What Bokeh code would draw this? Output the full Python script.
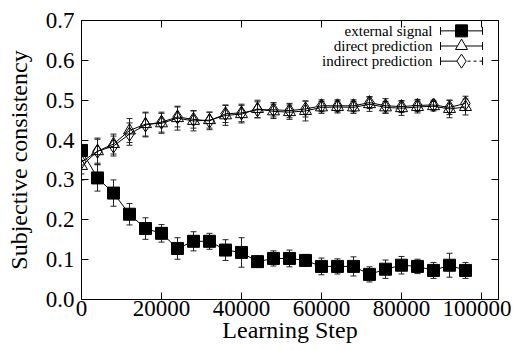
from bokeh.plotting import figure
from bokeh.models import (ColumnDataSource, Whisker, TeeHead, LinearAxis, FixedTicker,
                          Range1d, NumeralTickFormatter, BasicTickFormatter,
                          CustomJSTickFormatter)
from bokeh.core.properties import value
from bokeh.embed import file_html
from bokeh.resources import INLINE

# ---------------- data ----------------
steps = [0, 4000, 8000, 12000, 16000, 20000, 24000, 28000, 32000, 36000, 40000, 44000,
         48000, 52000, 56000, 60000, 64000, 68000, 72000, 76000, 80000, 84000, 88000,
         92000, 96000]
external = [0.374, 0.305, 0.267, 0.214, 0.178, 0.166, 0.128, 0.146, 0.146, 0.124, 0.118,
            0.095, 0.103, 0.103, 0.098, 0.083, 0.083, 0.083, 0.063, 0.076, 0.086, 0.083,
            0.073, 0.086, 0.073]
external_err = [0.025, 0.033, 0.033, 0.027, 0.027, 0.022, 0.027, 0.024, 0.020, 0.026,
                0.037, 0.014, 0.019, 0.021, 0.015, 0.021, 0.019, 0.024, 0.019, 0.023,
                0.022, 0.018, 0.020, 0.030, 0.020]
direct = [0.335, 0.372, 0.390, 0.424, 0.440, 0.442, 0.455, 0.448, 0.450, 0.462, 0.465,
          0.478, 0.472, 0.470, 0.473, 0.482, 0.483, 0.482, 0.490, 0.482, 0.480, 0.483,
          0.485, 0.478, 0.483]
direct_err = [0.035, 0.033, 0.025, 0.030, 0.030, 0.025, 0.030, 0.025, 0.020, 0.025, 0.022,
              0.022, 0.018, 0.018, 0.025, 0.015, 0.015, 0.015, 0.018, 0.015, 0.018, 0.015,
              0.012, 0.022, 0.020]
indirect = [0.345, 0.372, 0.385, 0.415, 0.438, 0.445, 0.458, 0.452, 0.448, 0.466, 0.468,
            0.476, 0.476, 0.474, 0.478, 0.486, 0.486, 0.486, 0.494, 0.486, 0.484, 0.487,
            0.488, 0.482, 0.492]
indirect_err = [0.030, 0.030, 0.025, 0.028, 0.030, 0.025, 0.025, 0.022, 0.022, 0.022,
                0.022, 0.020, 0.018, 0.018, 0.020, 0.015, 0.015, 0.015, 0.015, 0.018,
                0.015, 0.015, 0.012, 0.018, 0.018]
series_names = ["external signal", "direct prediction", "indirect prediction"]
x_ticks = [0, 20000, 40000, 60000, 80000, 100000]
y_ticks = [0.0, 0.1, 0.2, 0.3, 0.4, 0.5, 0.6, 0.7]

FONT = "'Liberation Serif', 'Times New Roman', serif"

p = figure(width=511, height=350, output_backend="svg", toolbar_location=None,
           x_range=Range1d(0, 104250), y_range=Range1d(0, 0.7),
           min_border_left=81, min_border_right=13, min_border_top=20, min_border_bottom=51)
p.outline_line_color = "black"
p.outline_line_width = 1
p.grid.visible = False
p.background_fill_color = "white"

# axes
for ax in (p.xaxis[0], p.yaxis[0]):
    ax.major_tick_in = 7
    ax.major_tick_out = 0
    ax.minor_tick_line_color = None
    ax.axis_line_color = "black"
    ax.major_label_text_font = FONT
    ax.major_label_text_font_size = "23px"
    ax.major_label_text_color = "black"
    ax.axis_label_text_font = FONT
    ax.axis_label_text_font_style = "normal"
    ax.axis_label_text_font_size = "24px"
    ax.axis_label_text_color = "black"

p.xaxis.ticker = FixedTicker(ticks=x_ticks)
p.xaxis.formatter = BasicTickFormatter(use_scientific=False)
p.xaxis.axis_label = "Learning Step"
p.xaxis.major_label_standoff = 1
p.xaxis.axis_label_standoff = -2
p.yaxis.ticker = FixedTicker(ticks=y_ticks)
p.yaxis.formatter = NumeralTickFormatter(format="0.0")
p.yaxis.axis_label = "Subjective consistency"
p.yaxis.major_label_standoff = 7
p.yaxis.axis_label_standoff = 11

# mirror ticks (no labels)
blank = CustomJSTickFormatter(code="return ''")
top = LinearAxis(ticker=FixedTicker(ticks=x_ticks), formatter=blank,
                 major_tick_in=7, major_tick_out=0, minor_tick_line_color=None,
                 axis_line_color=None, major_label_standoff=0)
right = LinearAxis(ticker=FixedTicker(ticks=y_ticks), formatter=blank,
                   major_tick_in=7, major_tick_out=0, minor_tick_line_color=None,
                   axis_line_color=None, major_label_standoff=0)
p.add_layout(top, "above")
p.add_layout(right, "right")

ERR_COLOR = "#222222"


def add_series(ys, errs, kind):
    src = ColumnDataSource(dict(x=steps, y=ys,
                                lo=[a - b for a, b in zip(ys, errs)],
                                hi=[a + b for a, b in zip(ys, errs)]))
    p.add_layout(Whisker(source=src, base="x", lower="lo", upper="hi", dimension="height",
                         line_color=ERR_COLOR, line_width=1,
                         lower_head=TeeHead(size=6, line_color=ERR_COLOR, line_width=1),
                         upper_head=TeeHead(size=6, line_color=ERR_COLOR, line_width=1)))
    p.line("x", "y", source=src, line_color="black", line_width=1)
    if kind == "square":
        p.scatter("x", "y", source=src, marker="square", size=12, fill_color="black",
                  line_color="black")
    elif kind == "triangle":
        p.scatter("x", "y", source=src, marker="triangle", size=12, fill_color="white",
                  fill_alpha=0, line_color="black", line_width=1)
    else:
        p.scatter("x", "y", source=src, marker="diamond", size=14, fill_color="white",
                  fill_alpha=0, line_color="black", line_width=1)


add_series(external, external_err, "square")
add_series(direct, direct_err, "triangle")
add_series(indirect, indirect_err, "diamond")

# legend (gnuplot style: text then sample)
leg_y = [0.674, 0.636, 0.598]
leg_text_x = 87750
leg_x0, leg_xm, leg_x1 = 89750, 95000, 100250
tick_h = 0.01
p.text(x=[leg_text_x] * 3, y=leg_y, text=series_names, text_align="right",
       text_baseline="middle", text_font=value(FONT), text_font_size="15px",
       text_color="black")
p.segment(x0=[leg_x0] * 3, y0=leg_y, x1=[leg_xm] * 3, y1=leg_y,
          line_color="black", line_width=1)
p.segment(x0=[leg_xm, leg_xm], y0=leg_y[:2], x1=[leg_x1, leg_x1], y1=leg_y[:2],
          line_color="black", line_width=1)
p.segment(x0=[leg_xm], y0=leg_y[2:], x1=[leg_x1], y1=leg_y[2:],
          line_color="black", line_width=1, line_dash="3 3")
p.segment(x0=[leg_x0] * 3 + [leg_x1] * 3, y0=[v - tick_h for v in leg_y] * 2,
          x1=[leg_x0] * 3 + [leg_x1] * 3, y1=[v + tick_h for v in leg_y] * 2,
          line_color="black", line_width=1)
p.scatter(x=[leg_xm], y=[leg_y[0]], marker="square", size=12, fill_color="black",
          line_color="black")
p.scatter(x=[leg_xm], y=[leg_y[1]], marker="triangle", size=12, fill_color="white",
          line_color="black")
p.scatter(x=[leg_xm], y=[leg_y[2]], marker="diamond", size=14, fill_color="white",
          line_color="black")

open("out.html", "w").write(file_html(p, INLINE))
